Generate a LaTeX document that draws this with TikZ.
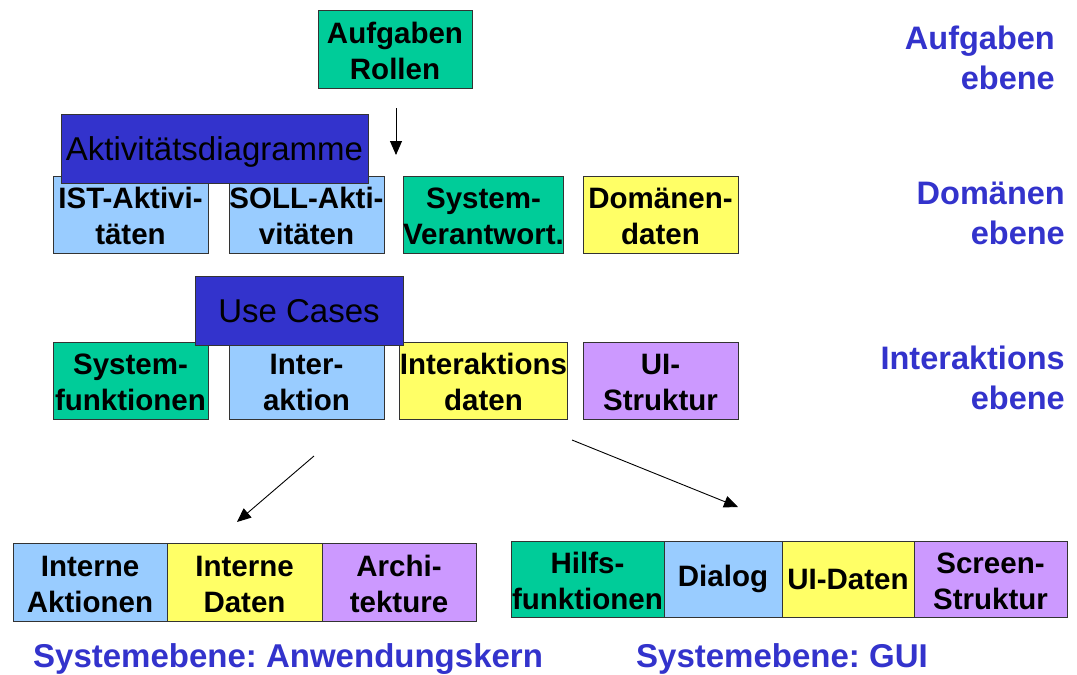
\documentclass[tikz,border=0pt]{standalone}
\usepackage{fontspec}
\setmainfont{Liberation Sans}
\usetikzlibrary{arrows.meta}
\definecolor{cgreen}{HTML}{00CC99}
\definecolor{cblue}{HTML}{99CCFF}
\definecolor{cyellow}{HTML}{FFFF66}
\definecolor{cpurple}{HTML}{CC99FF}
\definecolor{cdark}{HTML}{3333CC}
\tikzset{
  box/.style={draw=black!80, line width=1pt, inner sep=0pt, align=center,
    font=\fontsize{29.5}{36}\selectfont\bfseries, text=black},
  twoline/.style={text height=60pt, text depth=0pt},
  rowbox/.style={box, twoline, minimum width=155pt, minimum height=77pt},
  titlebox/.style={draw=black!80, line width=1pt, fill=cdark, inner sep=0pt,
    font=\fontsize{33}{38}\selectfont, text=black, text depth=0pt},
  level/.style={font=\fontsize{32.5}{40}\selectfont\bfseries, text=cdark, align=right, inner sep=0pt},
  syslevel/.style={level, font=\fontsize{33}{40}\selectfont\bfseries},
  arr/.style={line width=0.9pt, -{Triangle[length=14pt,width=12pt]}}
}
\frenchspacing
\begin{document}
\begin{tikzpicture}[x=1pt,y=-1pt]
\useasboundingbox (0,0) rectangle (1077,675);
% Aufgaben
\node[box, twoline, fill=cgreen, minimum width=154pt, minimum height=78pt] (auf) at (395,49) {Aufgaben\\Rollen};
\coordinate (a1) at (396,108);
\coordinate (a2) at (396,155);
\draw[arr] (a1) -- (a2);
% row 1
\node[rowbox, fill=cblue] (ist) at (130.5,214.5) {IST-Aktivi-\\täten};
\node[rowbox, fill=cblue] (soll) at (306.5,214.5) {SOLL-Akti-\\vitäten};
\node[rowbox, fill=cgreen] (sysv) at (483.5,214.5) {System-\\Verantwort.};
\node[rowbox, fill=cyellow] (dom) at (660.5,214.5) {Domänen-\\daten};
\node[titlebox, minimum width=307pt, minimum height=69pt] (akt) at (214.5,148.5) {Aktivitätsdiagramme};
% row 2
\node[rowbox, fill=cgreen] (sysf) at (130.5,380.5) {System-\\funktionen};
\node[rowbox, fill=cblue] (inter) at (306.5,380.5) {Inter-\\aktion};
\node[rowbox, fill=cyellow] (idat) at (483.5,380.5) {Interaktions\\daten};
\node[rowbox, fill=cpurple] (uis) at (660.5,380.5) {UI-\\Struktur};
\node[titlebox, minimum width=208pt, minimum height=69pt] (uc) at (299,310.5) {Use Cases};
% arrows down
\coordinate (l1) at (314,456);
\coordinate (l2) at (237,522);
\draw[arr] (l1) -- (l2);
\coordinate (r1) at (572,440);
\coordinate (r2) at (738,507);
\draw[arr] (r1) -- (r2);
% bottom left
\node[box, twoline, fill=cblue, minimum width=154pt, minimum height=78pt] (ia) at (90,582) {Interne\\Aktionen};
\node[box, twoline, fill=cyellow, minimum width=155pt, minimum height=78pt] (id) at (244.5,582) {Interne\\Daten};
\node[box, twoline, fill=cpurple, minimum width=154pt, minimum height=78pt] (ar) at (399,582) {Archi-\\tekture};
% bottom right
\node[box, twoline, fill=cgreen, minimum width=153pt, minimum height=76pt] (hf) at (587.5,579) {Hilfs-\\funktionen};
\node[box, fill=cblue, minimum width=118pt, minimum height=76pt] (dl) at (723,579) {Dialog};
\node[box, fill=cyellow, minimum width=132pt, minimum height=76pt] (ud) at (848,579) {UI-Daten};
\node[box, twoline, fill=cpurple, minimum width=153pt, minimum height=76pt] (ss) at (990.5,579) {Screen-\\Struktur};
% level labels
\node[level, anchor=east] (la) at (1055,58) {Aufgaben\\ebene};
\node[level, anchor=east] (ld) at (1065,213) {Domänen\\ebene};
\node[level, anchor=east] (li) at (1065,378) {Interaktions\\ebene};
\node[syslevel, anchor=base west] (sa) at (33,667) {Systemebene: Anwendungskern};
\node[syslevel, anchor=base west] (sg) at (636,667) {Systemebene: GUI};
\end{tikzpicture}
\end{document}
